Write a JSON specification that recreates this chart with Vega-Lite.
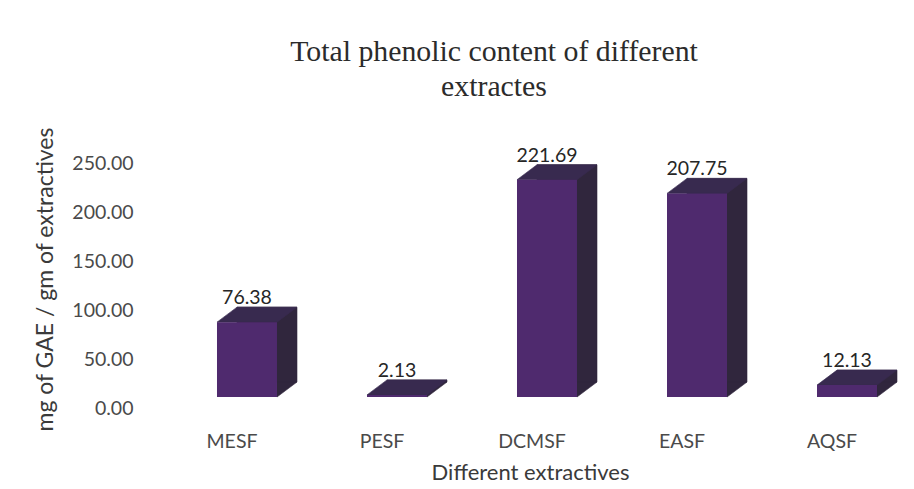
{
  "$schema": "https://vega.github.io/schema/vega-lite/v6.json",
  "autosize": "none",
  "width": 760,
  "height": 245,
  "padding": {"left": 150, "top": 152, "right": 4, "bottom": 92},
  "background": "white",
  "title": {
    "text": ["Total phenolic content of different", "extractes"],
    "font": "Liberation Serif",
    "fontSize": 29.8,
    "fontWeight": "normal",
    "color": "#2b2b2b",
    "lineHeight": 35,
    "offset": 25,
    "dx": -36,
    "anchor": "middle"
  },
  "config": {
    "view": {"stroke": null},
    "font": "Lato"
  },
  "data": {
    "values": [
      {"extract": "MESF", "value": 76.38},
      {"extract": "PESF", "value": 2.13},
      {"extract": "DCMSF", "value": 221.69},
      {"extract": "EASF", "value": 207.75},
      {"extract": "AQSF", "value": 12.13}
    ]
  },
  "encoding": {
    "x": {
      "field": "extract",
      "type": "nominal",
      "sort": null,
      "scale": {"paddingInner": 0.6, "paddingOuter": 0.3333, "align": 0.67},
      "axis": {
        "title": "Different extractives",
        "titleFont": "Lato",
        "titleFontSize": 22,
        "titleFontWeight": "normal",
        "titleColor": "#3a3a3a",
        "titleY": 75,
        "titleBaseline": "middle",
        "labelFont": "Lato",
        "labelFontSize": 19.5,
        "labelColor": "#4a4a4a",
        "labelAngle": 0,
        "labelPadding": 35,
        "labelOffset": -15,
        "ticks": false,
        "tickSize": 0,
        "domain": false,
        "grid": false
      }
    },
    "y": {
      "field": "value",
      "type": "quantitative",
      "scale": {"domain": [0, 250], "nice": false},
      "axis": {
        "title": "mg of GAE / gm of extractives",
        "titleFont": "Lato",
        "titleFontSize": 23,
        "titleFontWeight": "normal",
        "titleColor": "#3a3a3a",
        "titleX": -105,
        "titleY": 127,
        "titleBaseline": "middle",
        "titleAngle": -90,
        "values": [0, 50, 100, 150, 200, 250],
        "format": ".2f",
        "labelFont": "Lato",
        "labelFontSize": 19.5,
        "labelColor": "#4a4a4a",
        "labelPadding": 17,
        "labelOffset": 11,
        "ticks": false,
        "tickSize": 0,
        "domain": false,
        "grid": false
      }
    }
  },
  "layer": [
    {
      "mark": {"type": "bar", "fill": "#30263d", "stroke": "#30263d", "strokeWidth": 0.6, "xOffset": 20, "x2Offset": 20, "yOffset": -15, "y2Offset": -15}
    },
    {
      "mark": {"type": "point", "shape": "M0,0L0,-15L20,-15Z", "size": 4, "filled": true, "fill": "#30263d", "stroke": "#30263d", "strokeWidth": 0.6, "opacity": 1, "xOffset": 30},
      "encoding": {"y": {"datum": 0, "type": "quantitative"}}
    },
    {
      "mark": {"type": "point", "shape": "M0,0L60,0L80,-15L20,-15Z", "size": 4, "filled": true, "fill": "#382a4f", "stroke": "#382a4f", "strokeWidth": 0.6, "opacity": 1, "xOffset": -30}
    },
    {
      "mark": {"type": "bar", "fill": "#4f2a6e"}
    },
    {
      "mark": {"type": "text", "dy": -24, "baseline": "middle", "font": "Lato", "fontSize": 19.5, "color": "#262626"},
      "encoding": {"text": {"field": "value", "type": "quantitative", "format": ".2f"}}
    }
  ]
}
